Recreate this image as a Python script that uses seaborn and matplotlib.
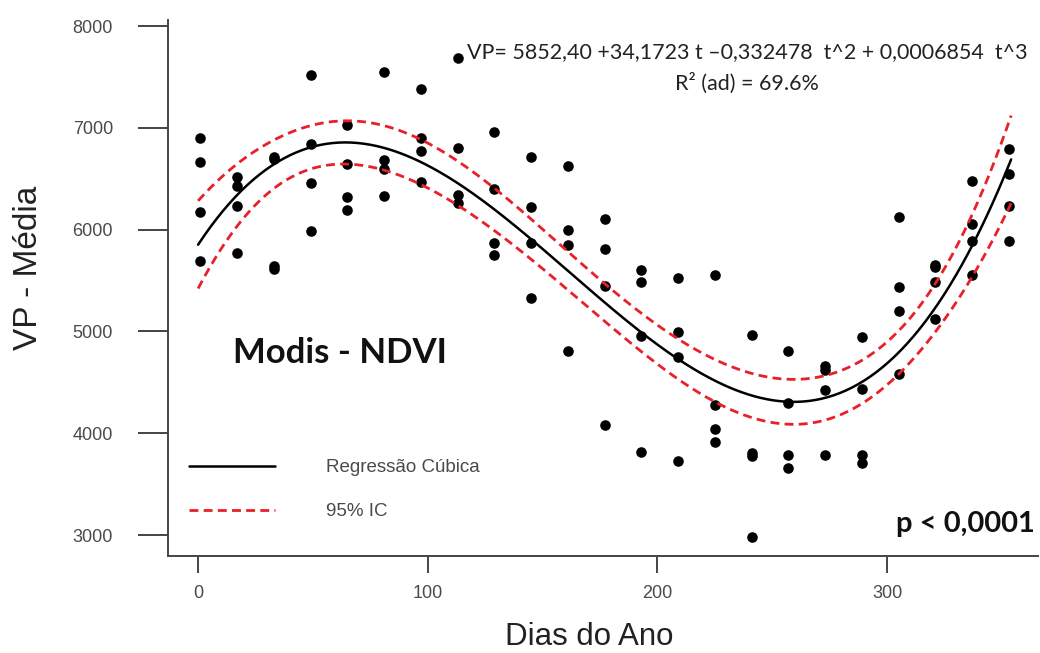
import numpy as np
import pandas as pd
import matplotlib
matplotlib.use("Agg")
import matplotlib.pyplot as plt
import seaborn as sns

# ---------------- data ----------------
days = [1, 17, 33, 49, 65, 81, 97, 113, 129, 145, 161, 177,
        193, 209, 225, 241, 257, 273, 289, 305, 321, 337, 353]
obs_1 = [6900, 6520, 6710, 7515, 7030, 7550, 7385, 7685, 6960, 6715, 6630, 6105,
         5605, 5525, 5550, 4970, 4805, 4665, 4950, 6120, 5650, 6475, 6790]
obs_2 = [6660, 6430, 6690, 6840, 6645, 6685, 6905, 6805, 6400, 6220, 6000, 5810,
         5485, 4995, 4275, 3810, 4295, 4620, 4430, 5435, 5630, 6060, 6545]
obs_3 = [6175, 6235, 5640, 6455, 6325, 6595, 6775, 6340, 5865, 5865, 5845, 5450,
         4955, 4750, 4040, 3780, 3785, 4420, 3790, 5205, 5490, 5885, 6230]
obs_4 = [5695, 5770, 5615, 5990, 6195, 6335, 6465, 6265, 5750, 5325, 4805, 4085,
         3815, 3725, 3910, 2985, 3655, 3785, 3705, 4580, 5120, 5550, 5885]

coef = [5852.40, 34.1723, -0.332478, 0.0006854]   # b0, b1, b2, b3 (from the chart)
x_ticks = [0, 100, 200, 300]
y_ticks = [3000, 4000, 5000, 6000, 7000, 8000]

eq_text = "VP= 5852,40 +34,1723 t \u20130,332478  t^2 + 0,0006854  t^3"
r2_text = "R\u00b2 (ad) = 69.6%"
title_text = "Modis - NDVI"
p_text = "p < 0,0001"
label_fit = "Regress\u00e3o C\u00fabica"
label_ci = "95% IC"

# ---------------- build table ----------------
df = pd.DataFrame({
    "dia": np.tile(days, 4),
    "vp": np.concatenate([obs_1, obs_2, obs_3, obs_4]).astype(float),
})

t = df["dia"].to_numpy(float)
y = df["vp"].to_numpy(float)
X = np.vander(t, 4, increasing=True)
beta = np.array(coef)
resid = y - X @ beta
n, p = X.shape
s2 = resid @ resid / (n - p)
XtX_inv = np.linalg.inv(X.T @ X)
t_crit = 1.987

t_grid = np.linspace(0, 354, 400)
G = np.vander(t_grid, 4, increasing=True)
fit = G @ beta
se = np.sqrt(s2 * np.einsum("ij,jk,ik->i", G, XtX_inv, G))
upper = fit + t_crit * se
lower = fit - t_crit * se

# ---------------- figure ----------------
sns.set_theme(style="white")
plt.rcParams["font.family"] = ["Liberation Sans", "DejaVu Sans"]

W, H = 1040, 653
fig = plt.figure(figsize=(W / 100, H / 100), dpi=100)
ax = fig.add_axes([168 / W, 97 / H, 870 / W, 536 / H])

red = "#e8202a"
dash = (3.2, 1.9)
sns.scatterplot(data=df, x="dia", y="vp", color="black", s=58, linewidth=0,
                ax=ax, zorder=3, legend=False)
sns.lineplot(x=t_grid, y=fit, color="black", linewidth=1.8, ax=ax,
             label=label_fit, zorder=4)
sns.lineplot(x=t_grid, y=upper, color=red, linewidth=2.0, ax=ax,
             label=label_ci, zorder=4).lines[-1].set_dashes(dash)
sns.lineplot(x=t_grid, y=lower, color=red, linewidth=2.0, ax=ax,
             label="_nolegend_", zorder=4).lines[-1].set_dashes(dash)

ax.set_xlim(-13.1, 365.7)
ax.set_ylim(2794, 8060)
ax.set_xticks(x_ticks)
ax.set_yticks(y_ticks)

for side in ("top", "right"):
    ax.spines[side].set_visible(False)
for side in ("left", "bottom"):
    ax.spines[side].set_color("#444444")
    ax.spines[side].set_linewidth(1.4)

ax.tick_params(axis="y", direction="out", length=21.6, width=1.4, pad=18,
               labelsize=13, color="#444444", labelcolor="#4a4a4a", left=True)
ax.tick_params(axis="x", direction="out", length=12.2, width=1.4, pad=8.4,
               labelsize=13, color="#444444", labelcolor="#4a4a4a", bottom=True)

ax.set_xlabel("Dias do Ano", fontsize=22.5, color="#222222", va="baseline")
ax.xaxis.set_label_coords((589 - 168) / 870, (556 - 645) / 536)
ax.set_ylabel("VP - M\u00e9dia", fontsize=24, color="#222222")
ax.yaxis.set_label_coords((44 - 168) / 870, (556 - 268) / 536)

leg = ax.legend(loc="upper left", bbox_to_anchor=((189 - 168) / 870, (556 - 459) / 536),
                frameon=False, fontsize=13.5, handlelength=4.6, handletextpad=2.7,
                labelspacing=1.45, borderpad=0, borderaxespad=0)
for txt in leg.get_texts():
    txt.set_color("#4a4a4a")

fig.text(747 / W, 1 - 58 / H, eq_text, ha="center", va="baseline", fontsize=15.5,
         family="Lato", color="#222222")
fig.text(747 / W, 1 - 90 / H, r2_text, ha="center", va="baseline", fontsize=15.5,
         family="Lato", color="#222222")
fig.text(233 / W, 1 - 363 / H, title_text, ha="left", va="baseline", fontsize=25,
         family="Lato", weight="bold", color="#111111")
fig.text(1035 / W, 1 - 532 / H, p_text, ha="right", va="baseline", fontsize=21,
         family="Lato", weight="bold", color="#111111")

fig.savefig("out.png", dpi=100)
